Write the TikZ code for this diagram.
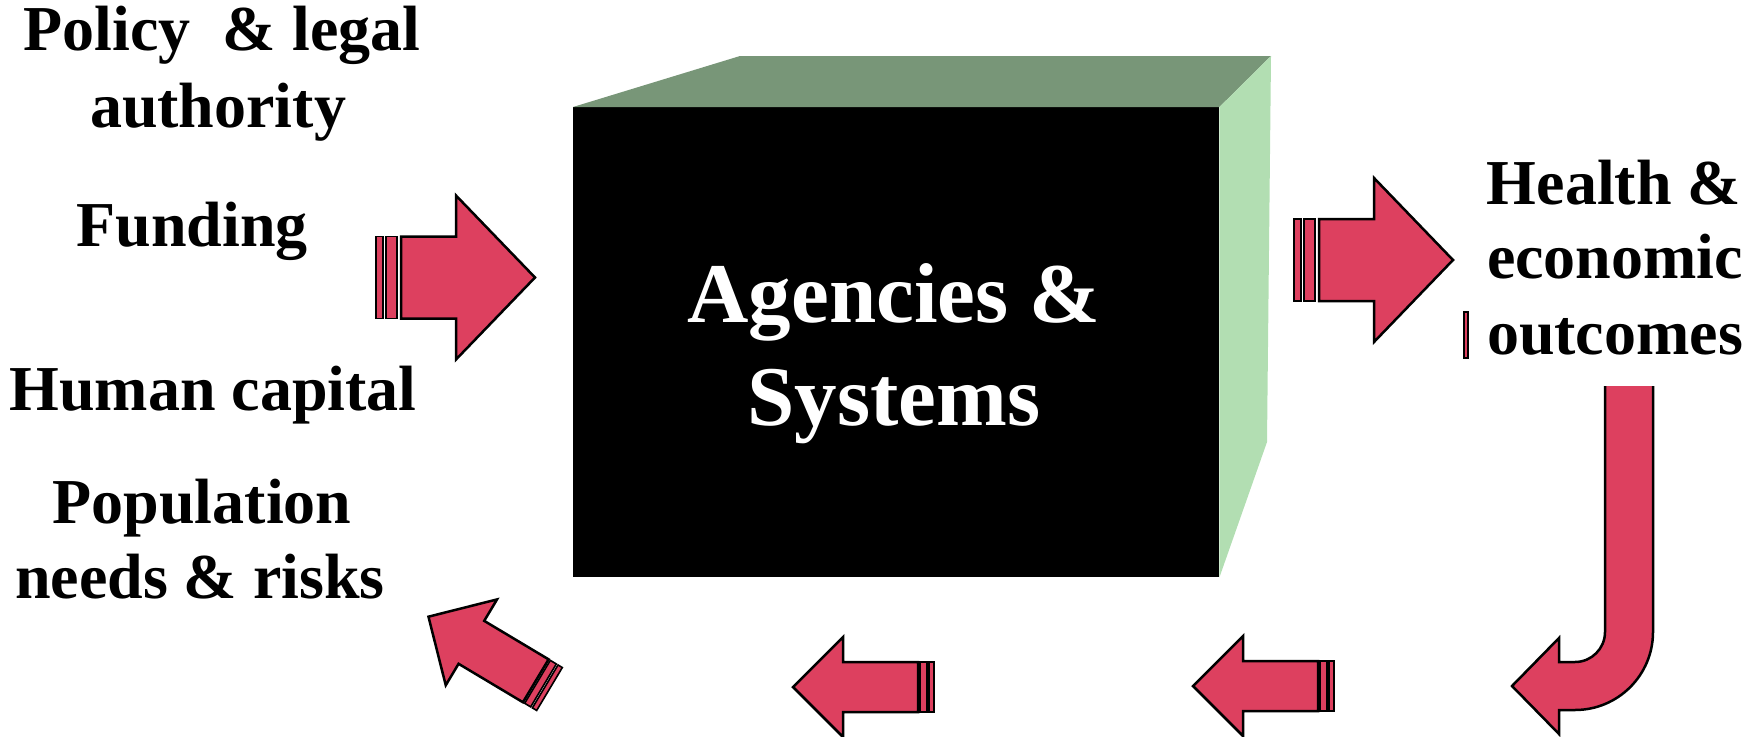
\documentclass[tikz,border=0pt]{standalone}
\usepackage{fontspec}
\setmainfont{Liberation Serif}

\definecolor{arrowred}{RGB}{221,64,95}
\definecolor{topgreen}{RGB}{120,150,120}
\definecolor{sidegreen}{RGB}{178,222,178}

\tikzset{
  redfill/.style={fill=arrowred, draw=black, line width=2.5pt, line join=miter},
  stripe/.style={fill=arrowred, draw=black, line width=1.6pt},
  sidelabel/.style={font=\bfseries\fontsize{64}{76}\selectfont, anchor=base, inner sep=0pt},
  boxlabel/.style={font=\bfseries\fontsize{85}{100}\selectfont, text=white, anchor=base, inner sep=0pt},
  bigarrow/.pic={
    \draw[stripe] (0,-41) rectangle (7,41);
    \draw[stripe] (10,-41) rectangle (21,41);
    \draw[redfill] (25,-41) -- (80,-41) -- (80,-82) -- (159,0) -- (80,82) -- (80,41) -- (25,41) -- cycle;
  },
  smallarrow/.pic={
    \draw[stripe] (0,-25) rectangle (5,25);
    \draw[stripe] (7,-25) rectangle (14,25);
    \draw[redfill] (16,-25) -- (91,-25) -- (91,-50) -- (141,0) -- (91,50) -- (91,25) -- (16,25) -- cycle;
  }
}

\begin{document}
\begin{tikzpicture}[x=1pt,y=1pt,yscale=-1]
\useasboundingbox (0,0) rectangle (1761,736);

%Shape: Box front
\node[fill=black, minimum width=646, minimum height=470, inner sep=0pt, anchor=north west] (front) at (573,107) {};
%Shape: Box top
\fill[topgreen] (front.north west) -- (740,56) -- (1271,56) -- (front.north east) -- cycle;
%Shape: Box side
\fill[sidegreen] (front.north east) -- (1271,56) -- (1267,442) -- (front.south east) -- cycle;

%Text: box
\node[boxlabel] (agencies) at (894,322) {Agencies \&};
\node[boxlabel] (systems) at (894,425) {Systems};

%Text: inputs
\node[sidelabel] (policy) at (222,50) {Policy~~\& legal};
\node[sidelabel] (authority) at (218,127) {authority};
\node[sidelabel] (funding) at (192,246) {Funding};
\node[sidelabel] (humancap) at (213,410) {Human capital};
\node[sidelabel] (population) at (202,523) {Population};
\node[sidelabel] (needs) at (200,598) {needs \& risks};

%Text: outcomes
\node[sidelabel] (health) at (1614,204) {Health \&};
\node[sidelabel] (economic) at (1615,278) {economic};
\node[sidelabel] (outcomes) at (1615,354) {outcomes};

%Shape: Right Arrows
\pic at (376,277.5) {bigarrow};
\pic at (1294,260) {bigarrow};
%Shape: small bar
\draw[stripe] (1464,312) rectangle (1468,358);

%Shape: Bent Arrow
\filldraw[redfill] (1605,386) -- (1605,632) arc[start angle=0, end angle=90, radius=30] -- (1559,662) -- (1559,638) -- (1512,686) -- (1559,734) -- (1559,710) -- (1575,710) arc[start angle=90, end angle=0, radius=78] -- (1653,386);

%Shape: Left Arrows
\pic[rotate=180] at (1334,686) {smallarrow};
\pic[rotate=180] at (934,687) {smallarrow};
\pic[rotate=149.14] at (549.5,689) {smallarrow};

\end{tikzpicture}
\end{document}
